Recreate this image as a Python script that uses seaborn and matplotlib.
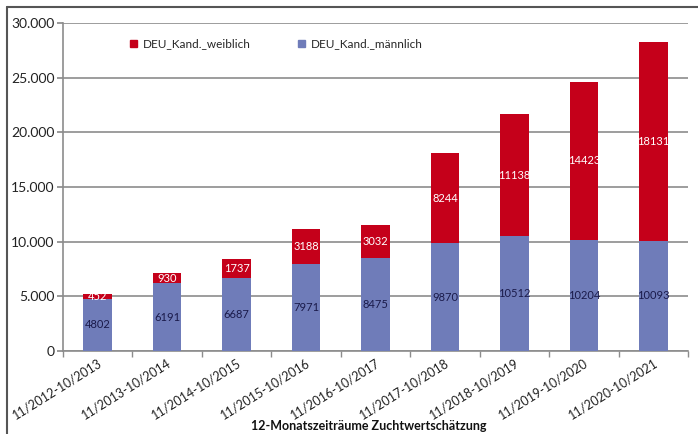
import matplotlib
matplotlib.use("Agg")
import matplotlib.pyplot as plt
from matplotlib.lines import Line2D
from matplotlib.patches import Patch
from matplotlib.ticker import FuncFormatter, FixedLocator
import numpy as np
import pandas as pd
import seaborn as sns

# Zeiträume der Zuchtwertschätzung
periods = ["11/2012-10/2013", "11/2013-10/2014", "11/2014-10/2015",
           "11/2015-10/2016", "11/2016-10/2017", "11/2017-10/2018",
           "11/2018-10/2019", "11/2019-10/2020", "11/2020-10/2021"]
male = [4802, 6191, 6687, 7971, 8475, 9870, 10512, 10204, 10093]
female = [452, 930, 1737, 3188, 3032, 8244, 11138, 14423, 18131]
yticks = [0, 5000, 10000, 15000, 20000, 25000, 30000]

RED = "#C5001A"
BLUE = "#6F7CB9"
GRID = "#8C8C8C"

sns.set_theme(style="white")
plt.rcParams["font.family"] = ["Lato", "DejaVu Sans"]

df = pd.DataFrame({"Zeitraum": periods, "m": male, "w": female})
df["gesamt"] = df["m"] + df["w"]

fig = plt.figure(figsize=(6.98, 4.34), dpi=100)
ax = fig.add_axes([0.090, 0.191, 0.896, 0.756])

sns.barplot(data=df, x="Zeitraum", y="gesamt", color=RED, width=0.41,
            saturation=1, linewidth=0, ax=ax, zorder=3)
sns.barplot(data=df, x="Zeitraum", y="m", color=BLUE, width=0.41,
            saturation=1, linewidth=0, ax=ax, zorder=3)

ax.set_ylim(0, 30000)
ax.set_xlim(-0.5, len(periods) - 0.5)
ax.set_yticks(yticks)
ax.yaxis.set_major_formatter(FuncFormatter(lambda v, p: f"{int(v):,}".replace(",", ".")))
ax.yaxis.grid(True, color=GRID, linewidth=1.2, zorder=0)
ax.set_axisbelow(True)

for s in ["top", "right"]:
    ax.spines[s].set_visible(False)
for s in ["left", "bottom"]:
    ax.spines[s].set_color(GRID)
    ax.spines[s].set_linewidth(1.2)

ax.tick_params(axis="y", which="major", left=True, length=4, color=GRID,
               labelsize=10, labelcolor="#222222", pad=2)
ax.tick_params(axis="x", which="major", length=0, labelsize=9,
               labelcolor="#222222", pad=4)
ax.xaxis.set_minor_locator(FixedLocator(np.arange(-0.5, len(periods), 1.0)))
ax.tick_params(axis="x", which="minor", bottom=True, length=4, color=GRID, width=1)
for lab in ax.get_xticklabels():
    lab.set_rotation(32)
    lab.set_ha("right")
    lab.set_rotation_mode("anchor")

ax.set_xlabel("")
ax.set_ylabel("")

# Werte in den Balken
for i, (m, w) in enumerate(zip(male, female)):
    ax.text(i, m / 2, str(m), ha="center", va="center", fontsize=8,
            color="#1a1a4a", zorder=4)
    ax.text(i, m + w / 2, str(w), ha="center", va="center", fontsize=8,
            color="white", zorder=4)

handles = [Patch(color=RED, label="DEU_Kand._weiblich"),
           Patch(color=BLUE, label="DEU_Kand._männlich")]
ax.legend(handles=handles, ncol=2, frameon=False, loc="upper left",
          bbox_to_anchor=(0.09, 0.985), fontsize=8.5, handlelength=0.6,
          handleheight=0.6, columnspacing=4.0, handletextpad=0.5)

fig.text(0.528, 0.004, "12-Monatszeiträume Zuchtwertschätzung",
         ha="center", va="bottom", fontsize=9, fontweight="bold",
         color="#111111")

# Rahmen links und oben
fig.add_artist(Line2D([0.010, 0.010], [0.0, 0.984], transform=fig.transFigure,
                      color="#555555", linewidth=1.5))
fig.add_artist(Line2D([0.010, 1.0], [0.984, 0.984], transform=fig.transFigure,
                      color="#555555", linewidth=1.5))

fig.savefig("out.png", dpi=100)
